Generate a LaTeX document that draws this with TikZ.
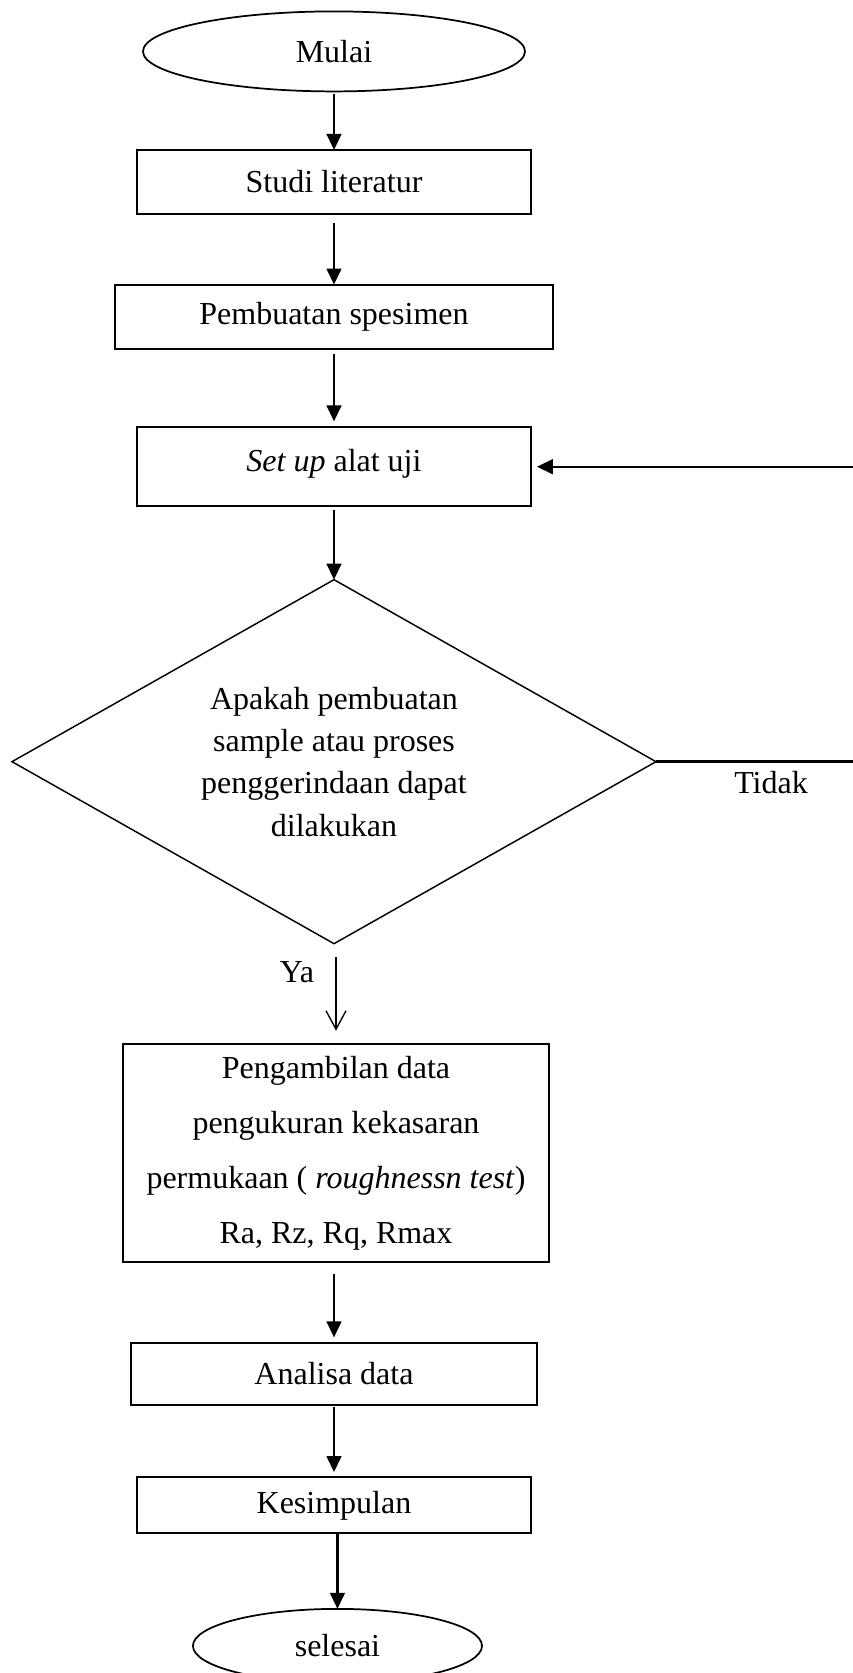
\documentclass[tikz,border=0pt]{standalone}
\usepackage{fontspec}
\setmainfont{Liberation Serif}
\usetikzlibrary{matrix, arrows.meta, shapes.geometric}

\begin{document}
\begin{tikzpicture}[x=0.375pt, y=-0.375pt, font=\fontsize{12}{14}\selectfont,
  proc/.style={draw, rectangle, line width=0.75pt, anchor=center, inner sep=0pt, outer sep=0pt, align=center},
  term/.style={draw, ellipse, line width=0.65pt, anchor=center, inner sep=0pt, outer sep=0pt},
  arr/.style={line width=0.9pt, -{Triangle[length=6pt, width=5.5pt]}}]
\useasboundingbox (0,0) rectangle (852,1673);
\matrix (m) [anchor=north, inner sep=0pt, row sep=20pt] at (334,10) {
\node[term, minimum width=143.25pt, minimum height=30pt] (start) {Mulai}; \\[1.25pt]
\node[proc, minimum width=147.4pt, minimum height=24pt] (studi) {Studi literatur}; \\[5.75pt]
\node[proc, minimum width=163.9pt, minimum height=24pt] (spes) {Pembuatan spesimen}; \\[8.75pt]
\node[proc, minimum width=147.75pt, text height=16.5pt, text depth=13.1pt] (setup) {\textit{Set up} alat uji}; \\[6.9pt]
\node[draw, diamond, line width=0.55pt, anchor=center, inner sep=0pt, outer sep=0pt, aspect=1.77,
  minimum width=241.5pt, minimum height=136.5pt, align=center, font=\fontsize{12}{15.9}\selectfont] (cek)
  {Apakah pembuatan\\ sample atau proses\\ penggerindaan dapat\\ dilakukan}; \\[17pt]
\node[proc, xshift=0.75pt, minimum width=159.75pt, minimum height=81.75pt, font=\fontsize{12}{20.6}\selectfont] (peng)
  {Pengambilan data\\ pengukuran kekasaran\\ permukaan ( \textit{roughnessn test})\\ Ra, Rz, Rq, Rmax}; \\[9.5pt]
\node[proc, minimum width=152.6pt, minimum height=23.25pt] (anal) {Analisa data}; \\[6.5pt]
\node[proc, minimum width=147.4pt, minimum height=21pt] (kes) {Kesimpulan}; \\[7.6pt]
\node[term, xshift=1.3pt, minimum width=108.4pt, minimum height=27.75pt] (end) {selesai}; \\
};
\node (tidak) at (771,783) {Tidak};
\node (ya) at (297,972) {Ya};
\coordinate (back) at (858,0);
\draw[arr, shorten <=1pt] (start) -- (studi);
\draw[arr, shorten <=3.4pt] (studi) -- (spes);
\draw[arr, shorten <=2.2pt, shorten >=2.2pt] (spes) -- (setup);
\draw[arr, shorten <=1.5pt] (setup) -- (cek);
\draw[arr, shorten >=2.2pt] (cek.east) -- (cek.east -| back) |- (setup.east);
\draw[line width=0.5pt, -{Straight Barb[length=7pt, width=7.5pt]}, shorten <=5pt, shorten >=5pt] (peng.north |- cek.south) -- (peng.north);
\draw[arr, shorten <=4.5pt, shorten >=2pt] (anal.north |- peng.south) -- (anal.north);
\draw[arr, shorten <=1pt, shorten >=2pt] (anal) -- (kes);
\draw[arr] (end.north |- kes.south) -- (end.north);
\end{tikzpicture}
\end{document}
